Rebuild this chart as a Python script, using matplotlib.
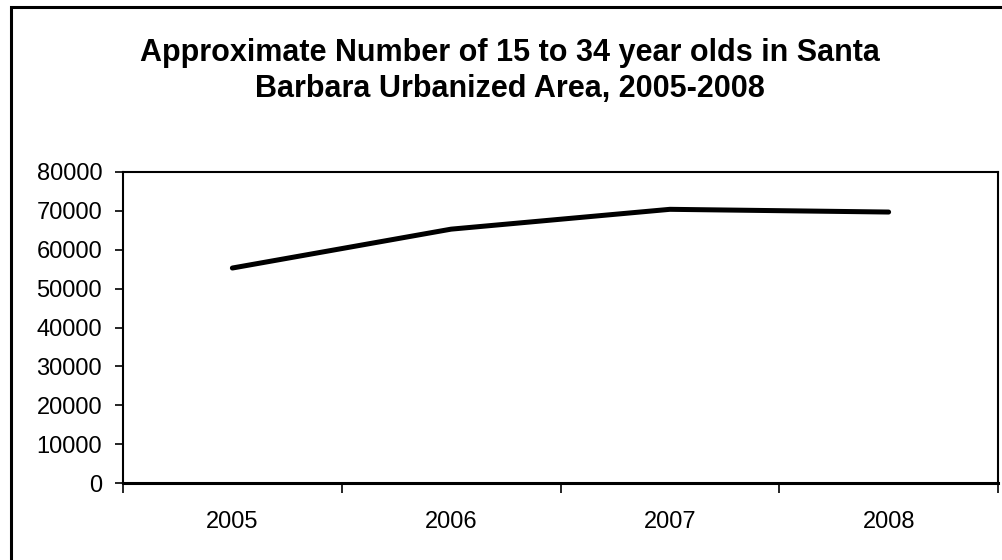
import matplotlib
matplotlib.use('Agg')
import matplotlib.pyplot as plt
from matplotlib.patches import Rectangle

plt.rcParams['font.family'] = ['Liberation Sans', 'DejaVu Sans']

years = ['2005', '2006', '2007', '2008']
people_15_34 = [55300, 65300, 70400, 69700]
y_ticks = [0, 10000, 20000, 30000, 40000, 50000, 60000, 70000, 80000]

W, H = 1002, 560
fig = plt.figure(figsize=(W / 100, H / 100), dpi=100)
ax = fig.add_axes([123 / W, 1 - 483 / H, (998 - 123) / W, (483 - 172) / H])

x = list(range(len(years)))
ax.plot(x, people_15_34, color='black', linewidth=3.6, solid_capstyle='round')

ax.set_xlim(-0.5, len(years) - 0.5)
ax.set_ylim(0, 80000)
ax.set_yticks(y_ticks)
ax.set_yticklabels([str(v) for v in y_ticks])

# category ticks sit between the years, labels in the middle
ax.set_xticks([i - 0.5 for i in range(len(years) + 1)])
ax.set_xticklabels([])
ax.set_xticks(x, minor=True)
ax.set_xticklabels(years, minor=True)
ax.tick_params(axis='x', which='major', length=7, width=1.2, direction='out')
ax.tick_params(axis='x', which='minor', length=0, pad=20, labelsize=17)
ax.tick_params(axis='y', length=6, width=1.2, direction='out', pad=9, labelsize=17)

for side in ['left', 'top', 'right']:
    ax.spines[side].set_linewidth(1.5)
ax.spines['bottom'].set_linewidth(2.2)

fig.text(510 / W, 1 - 38 / H,
         'Approximate Number of 15 to 34 year olds in Santa\nBarbara Urbanized Area, 2005-2008',
         ha='center', va='top', fontsize=22, fontweight='bold', linespacing=1.27)

# outer frame around the whole chart
fig.add_artist(Rectangle((11 / W, -0.05), 1.1, 1.05 - 7 / H, transform=fig.transFigure,
                         fill=False, edgecolor='black', linewidth=2.2))

fig.savefig('out.png', dpi=100)
